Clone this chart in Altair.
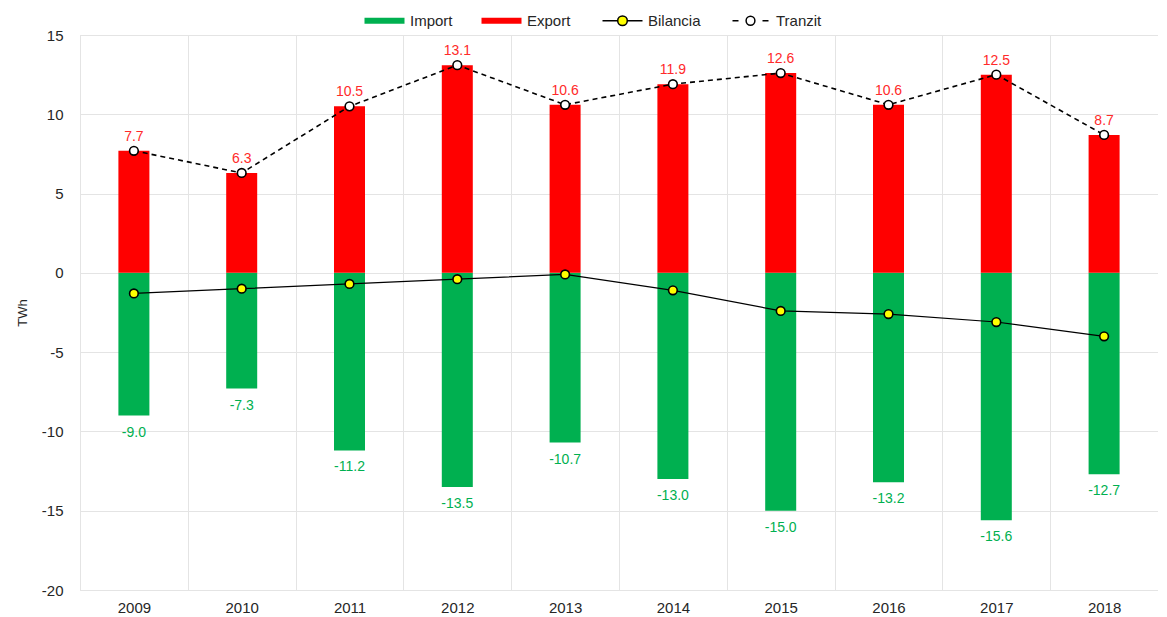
import altair as alt
import pandas as pd

years = ["2009", "2010", "2011", "2012", "2013", "2014", "2015", "2016", "2017", "2018"]
import_vals = [-9.0, -7.3, -11.2, -13.5, -10.7, -13.0, -15.0, -13.2, -15.6, -12.7]
export_vals = [7.7, 6.3, 10.5, 13.1, 10.6, 11.9, 12.6, 10.6, 12.5, 8.7]
bilancia_vals = [-1.3, -1.0, -0.7, -0.4, -0.1, -1.1, -2.4, -2.6, -3.1, -4.0]
tranzit_vals = [7.7, 6.3, 10.5, 13.1, 10.6, 11.9, 12.6, 10.6, 12.5, 8.7]

series_names = ["Import", "Export", "Bilancia", "Tranzit"]
series_colors = ["#00b050", "#ff0000", "#ffff00", "#ffffff"]

bars = pd.DataFrame(
    {"year": years * 2,
     "series": ["Import"] * len(years) + ["Export"] * len(years),
     "value": import_vals + export_vals}
)
wide = pd.DataFrame({"year": years, "imp": import_vals, "exp": export_vals,
                     "bil": bilancia_vals, "tra": tranzit_vals})

FONT = "Liberation Sans"

x_enc = alt.X("year:N", title=None,
              scale=alt.Scale(paddingInner=0, paddingOuter=0),
              axis=alt.Axis(labelAngle=0, ticks=False, domain=False, grid=True,
                            tickBand="extent", gridColor="#e4e4e4",
                            labelFontSize=15, labelColor="#262626",
                            labelFont=FONT, labelPadding=10))
y_scale = alt.Scale(domain=[-20, 15], nice=False, zero=False)
y_axis = alt.Axis(values=[-20, -15, -10, -5, 0, 5, 10, 15], ticks=False, domain=False,
                  gridColor="#e4e4e4", labelFontSize=15, labelColor="#262626",
                  labelFont=FONT, labelPadding=17, title="TWh", titleFont=FONT,
                  titleFontSize=13, titleFontWeight="normal", titleColor="#262626",
                  titlePadding=12,
                  labelExpr="datum.value < 0 ? '-' + abs(datum.value) : '' + datum.value")

is_bar = "(datum.value=='Import'||datum.value=='Export')"
shape_sig = (is_bar + " ? "
             "'M-1,-0.15L1,-0.15L1,0.15L-1,0.15Z' : datum.value=='Bilancia' ? "
             "'M-1,0L-0.24,0M0.24,0L1,0M-0.24,0A0.24,0.24 0 1,1 0.24,0A0.24,0.24 0 1,1 -0.24,0Z' : "
             "'M-0.9,0L-0.6,0M0.6,0L0.9,0M-0.22,0A0.22,0.22 0 1,1 0.22,0A0.22,0.22 0 1,1 -0.22,0Z'")

legend = alt.Legend(
    title=None, orient="none", direction="horizontal", legendX=297, legendY=-22,
    symbolSize=1600, labelFontSize=15, labelFont=FONT, labelColor="#262626",
    labelOffset=18, columnPadding=28, padding=0,
    symbolType={"expr": shape_sig},
    symbolStrokeColor={"expr": is_bar + " ? 'transparent' : '#000000'"},
    symbolStrokeWidth={"expr": is_bar + " ? 0 : 1.5"},
    symbolOpacity=1,
)

bar_layer = alt.Chart(bars).mark_bar(size=31).encode(
    x=x_enc,
    y=alt.Y("value:Q", scale=y_scale, axis=y_axis, stack=None),
    color=alt.Color("series:N", scale=alt.Scale(domain=series_names, range=series_colors),
                    legend=legend),
)

base = alt.Chart(wide).transform_calculate(
    exp_txt="replace(format(datum.exp, '.1f'), '\u2212', '-')",
    imp_txt="replace(format(datum.imp, '.1f'), '\u2212', '-')",
).encode(x=alt.X("year:N"))

bil_line = base.mark_line(color="#000000", strokeWidth=1.2).encode(y="bil:Q")
bil_pts = base.mark_point(shape="circle", filled=True, fill="#ffff00", stroke="#000000",
                          strokeWidth=1.6, size=75, opacity=1).encode(y="bil:Q")
tra_line = base.mark_line(color="#000000", strokeWidth=1.6, strokeDash=[5, 4]).encode(y="tra:Q")
tra_pts = base.mark_point(shape="circle", filled=True, fill="#ffffff", stroke="#000000",
                          strokeWidth=1.6, size=75, opacity=1).encode(y="tra:Q")

exp_lbl = base.mark_text(dy=-14, color="#ff2a2a", fontSize=14, font=FONT).encode(
    y="exp:Q", text="exp_txt:N")
imp_lbl = base.mark_text(dy=17, color="#00b050", fontSize=14, font=FONT).encode(
    y="imp:Q", text="imp_txt:N")

chart = alt.layer(bar_layer, tra_line, bil_line, tra_pts, bil_pts, exp_lbl, imp_lbl).properties(
    width=1078, height=555,
    autosize=alt.AutoSizeParams(type="none"),
    padding={"left": 72, "top": 27, "right": 0, "bottom": 24},
).configure_view(stroke=None).configure(background="#ffffff")

chart.save("out.html", embed_options={"renderer": "svg", "actions": False})
